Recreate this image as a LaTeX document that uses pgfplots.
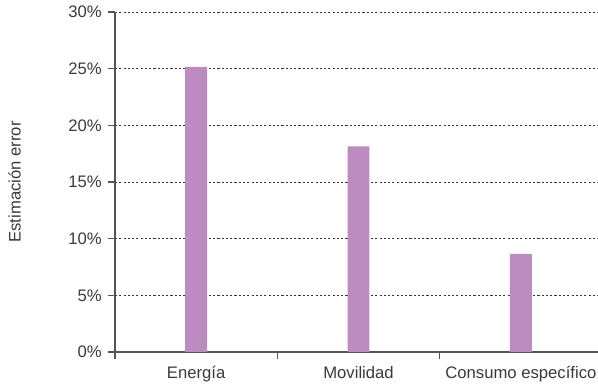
\documentclass[border=0pt]{standalone}
\usepackage{pgfplots}
\pgfplotsset{compat=1.18}
\usepackage{fontspec}
\setmainfont{Liberation Sans}
\definecolor{barc}{HTML}{BC8BC0}
\definecolor{axc}{HTML}{555555}
\definecolor{txt}{HTML}{3A3A3A}
\begin{document}
\begin{tikzpicture}
\useasboundingbox (0,0) rectangle (448.5pt,288pt);
\begin{axis}[
  at={(86.25pt,24pt)}, anchor=south west,
  scale only axis, width=362.25pt, height=255pt,
  xmin=0, xmax=2.975, ymin=0, ymax=30,
  axis lines=left,
  axis line style={axc, line width=0.8pt, -},
  xtick={0,1,2}, xticklabels={},
  extra x ticks={0.5,1.5,2.5},
  extra x tick labels={Energía,Movilidad,Consumo específico},
  extra x tick style={major tick length=0pt, grid=none},
  ytick={0,5,10,15,20,25,30},
  yticklabels={0\%,5\%,10\%,15\%,20\%,25\%,30\%},
  tick align=outside,
  major tick length=5.5pt,
  tick style={axc, line width=0.8pt},
  ymajorgrids,
  major grid style={black!80, line width=0.7pt, dash pattern=on 1.6pt off 1.6pt},
  ticklabel style={font=\fontsize{12.5}{14}\selectfont, text=txt},
  xticklabel style={yshift=-7pt},
  yticklabel style={xshift=-1pt},
  ylabel={Estimación error},
  ylabel style={at={(axis description cs:-0.208,0.5)}, anchor=center, font=\fontsize{12.5}{14}\selectfont, text=txt},
  clip=false,
]
\addplot[ybar, bar width=0.135, fill=barc, draw=none] coordinates {(0.5,25.15) (1.5,18.15) (2.5,8.65)};
\end{axis}
\end{tikzpicture}
\end{document}
